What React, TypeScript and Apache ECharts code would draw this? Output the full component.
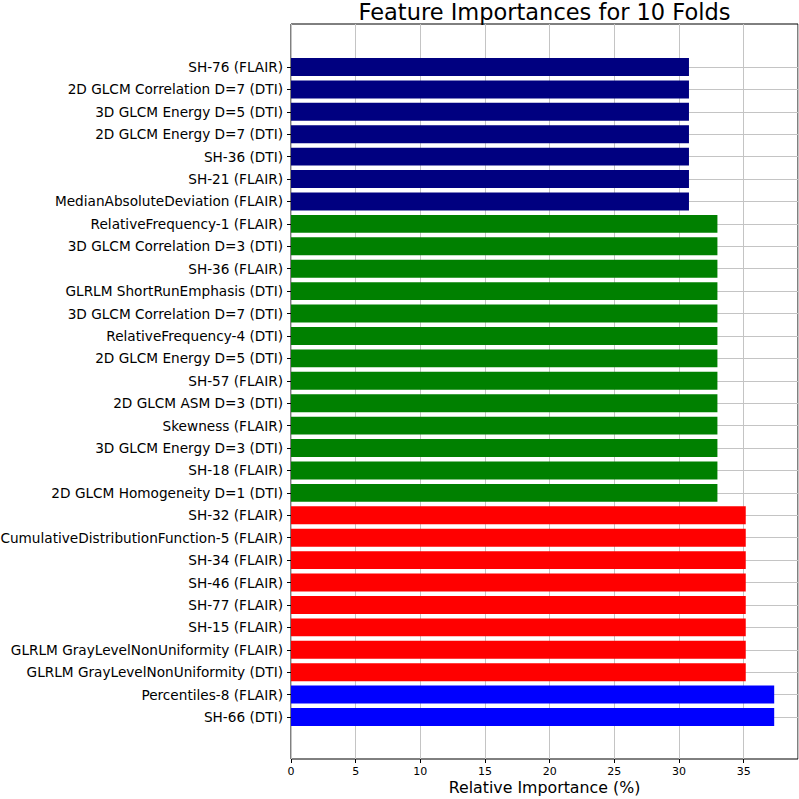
import React, { useEffect, useRef } from "react";
import * as echarts from "echarts";

const features: string[] = [
  "SH-76 (FLAIR)",
  "2D GLCM Correlation D=7 (DTI)",
  "3D GLCM Energy D=5 (DTI)",
  "2D GLCM Energy D=7 (DTI)",
  "SH-36 (DTI)",
  "SH-21 (FLAIR)",
  "MedianAbsoluteDeviation (FLAIR)",
  "RelativeFrequency-1 (FLAIR)",
  "3D GLCM Correlation D=3 (DTI)",
  "SH-36 (FLAIR)",
  "GLRLM ShortRunEmphasis (DTI)",
  "3D GLCM Correlation D=7 (DTI)",
  "RelativeFrequency-4 (DTI)",
  "2D GLCM Energy D=5 (DTI)",
  "SH-57 (FLAIR)",
  "2D GLCM ASM D=3 (DTI)",
  "Skewness (FLAIR)",
  "3D GLCM Energy D=3 (DTI)",
  "SH-18 (FLAIR)",
  "2D GLCM Homogeneity D=1 (DTI)",
  "SH-32 (FLAIR)",
  "CumulativeDistributionFunction-5 (FLAIR)",
  "SH-34 (FLAIR)",
  "SH-46 (FLAIR)",
  "SH-77 (FLAIR)",
  "SH-15 (FLAIR)",
  "GLRLM GrayLevelNonUniformity (FLAIR)",
  "GLRLM GrayLevelNonUniformity (DTI)",
  "Percentiles-8 (FLAIR)",
  "SH-66 (DTI)",
];

const importances: number[] = [
  30.77, 30.77, 30.77, 30.77, 30.77, 30.77, 30.77,
  32.97, 32.97, 32.97, 32.97, 32.97, 32.97, 32.97, 32.97, 32.97, 32.97, 32.97, 32.97, 32.97,
  35.16, 35.16, 35.16, 35.16, 35.16, 35.16, 35.16, 35.16,
  37.36, 37.36,
];

const barColors: string[] = [
  "#000080", "#000080", "#000080", "#000080", "#000080", "#000080", "#000080",
  "#008000", "#008000", "#008000", "#008000", "#008000", "#008000", "#008000",
  "#008000", "#008000", "#008000", "#008000", "#008000", "#008000",
  "#ff0000", "#ff0000", "#ff0000", "#ff0000", "#ff0000", "#ff0000", "#ff0000", "#ff0000",
  "#0000ff", "#0000ff",
];

const xTicks = { min: 0, max: 35, interval: 5 };
const xLimit = 39.2;

const FONT = "DejaVu Sans";

export default function App() {
  const ref = useRef<HTMLDivElement>(null);

  useEffect(() => {
    if (!ref.current) return;
    const chart = echarts.init(ref.current, undefined, { renderer: "svg" });
    const option: any = {
      animation: false,
      backgroundColor: "#ffffff",
      textStyle: { fontFamily: FONT, color: "#000" },
      title: {
        text: "Feature Importances for 10 Folds",
        left: 544.5,
        textAlign: "center",
        top: 3,
        padding: 0,
        textStyle: { fontFamily: FONT, fontSize: 22.5, lineHeight: 18, fontWeight: "normal", color: "#000" },
      },
      grid: [
        {
          left: 291, right: 1, top: 24, bottom: 40, outerBoundsMode: "none", containLabel: false,
          show: true, borderColor: "#000", borderWidth: 1, backgroundColor: "transparent",
        },
        { left: 291, right: 1, top: 67, bottom: 82, outerBoundsMode: "none", containLabel: false },
        { left: 291, right: 55.3, top: 758, bottom: 40, outerBoundsMode: "none", containLabel: false },
      ],
      xAxis: [
        {
          gridIndex: 0, type: "value", min: 0, max: xLimit, interval: 5,
          axisLine: { show: false }, axisTick: { show: false }, axisLabel: { show: false },
          splitLine: { show: true, lineStyle: { color: "#c4c4c4", width: 1 } },
          name: "Relative Importance (%)", nameLocation: "middle", nameGap: 20,
          nameTextStyle: { fontFamily: FONT, fontSize: 15.8, color: "#000" },
        },
        {
          gridIndex: 1, type: "value", min: 0, max: xLimit, show: false,
        },
        {
          gridIndex: 2, type: "value", min: xTicks.min, max: xTicks.max, interval: xTicks.interval,
          axisLine: { show: false },
          axisTick: { show: true, length: 4, lineStyle: { color: "#000", width: 1 } },
          axisLabel: { show: true, margin: 7, fontSize: 11, color: "#000", fontFamily: FONT },
          splitLine: { show: false },
        },
      ],
      yAxis: [
        { gridIndex: 0, type: "value", show: false, min: 0, max: 1 },
        {
          gridIndex: 1, type: "category", inverse: true, data: features, boundaryGap: false,
          axisLine: { show: false },
          axisTick: { show: true, length: 4, interval: 0, lineStyle: { color: "#000" } },
          axisLabel: { interval: 0, margin: 8, fontSize: 13.65, color: "#000", fontFamily: FONT },
          splitLine: { show: true, interval: 0, lineStyle: { color: "#c4c4c4", width: 1 } },
        },
        { gridIndex: 2, type: "value", show: false, min: 0, max: 1 },
      ],
      series: [
        {
          type: "bar",
          xAxisIndex: 1,
          yAxisIndex: 1,
          barWidth: "80%",
          clip: false,
          data: importances.map((v, i) => ({ value: v, itemStyle: { color: barColors[i] } })),
        },
      ],
    };
    chart.setOption(option);
    return () => chart.dispose();
  }, []);

  return (
    <div
      ref={ref}
      style={{ position: "fixed", left: 0, top: 0, width: 799, height: 799, background: "#fff" }}
    />
  );
}
